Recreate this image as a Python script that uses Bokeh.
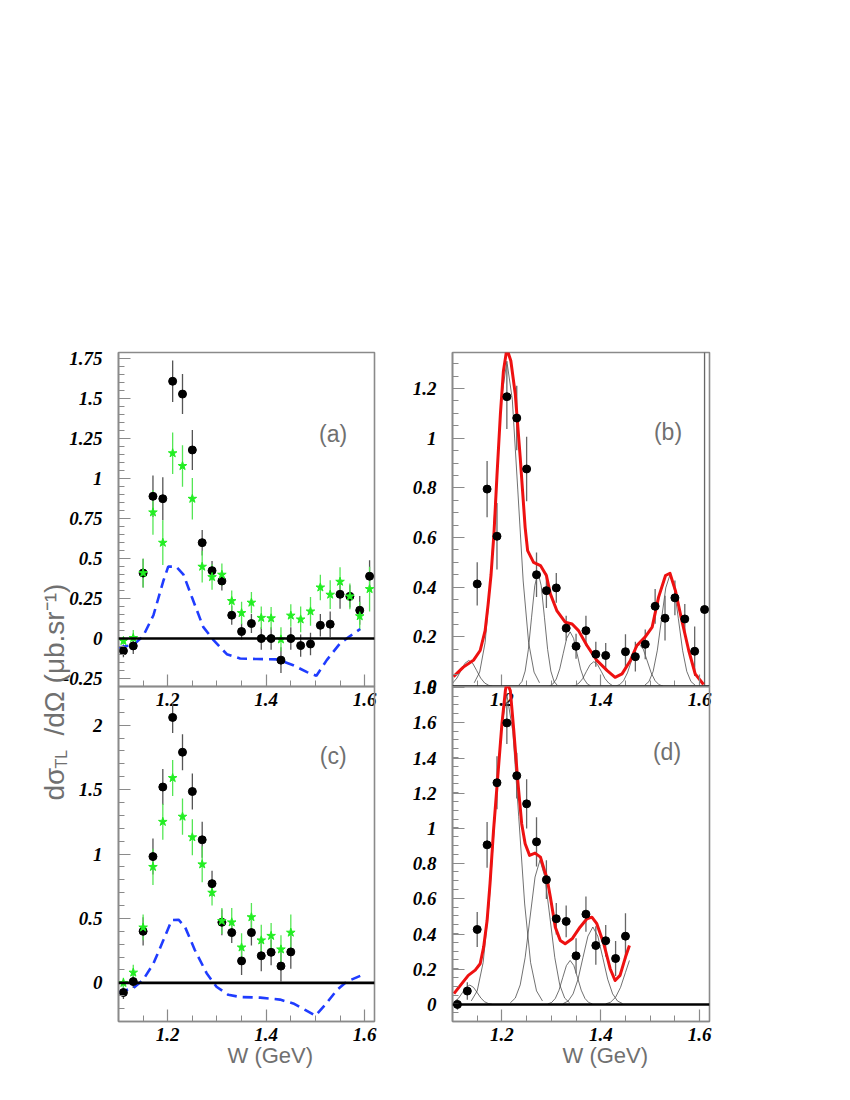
import numpy as np
from bokeh.plotting import figure
from bokeh.models import (Range1d, FixedTicker, CustomJSTickFormatter, Span, Label,
                          ColumnDataSource)
from bokeh.layouts import row, column
from bokeh.embed import file_html
from bokeh.resources import INLINE

# ---------------- data ----------------
# panel (a)
XA = [1.11, 1.13, 1.15, 1.17, 1.19, 1.21, 1.23, 1.25, 1.27, 1.29, 1.31, 1.33, 1.35,
      1.37, 1.39, 1.41, 1.43, 1.45, 1.47, 1.49, 1.51, 1.53, 1.55, 1.57, 1.59, 1.61]
YA_BLACK = [-0.077, -0.046, 0.41, 0.89, 0.875, 1.61, 1.53, 1.18, 0.60, 0.425, 0.36, 0.146, 0.044,
            0.094, 0.0, 0.0, -0.135, 0.0, -0.044, -0.034, 0.083, 0.09, 0.277, 0.264, 0.177, 0.39]
EA_BLACK = [0.04, 0.05, 0.09, 0.13, 0.135, 0.13, 0.125, 0.125, 0.08, 0.06, 0.06, 0.06, 0.05,
            0.06, 0.07, 0.07, 0.08, 0.07, 0.07, 0.07, 0.07, 0.08, 0.09, 0.07, 0.09, 0.1]
YA_GREEN = [-0.015, 0.004, 0.41, 0.79, 0.60, 1.16, 1.08, 0.875, 0.45, 0.385, 0.40, 0.235, 0.16,
            0.225, 0.13, 0.127, -0.005, 0.144, 0.12, 0.17, 0.32, 0.275, 0.356, 0.264, 0.14, 0.31]
EA_GREEN = [0.02, 0.05, 0.09, 0.14, 0.14, 0.13, 0.13, 0.13, 0.1, 0.08, 0.07, 0.065, 0.07,
            0.066, 0.07, 0.07, 0.075, 0.07, 0.08, 0.09, 0.08, 0.09, 0.09, 0.08, 0.09, 0.14]
BXA = [1.10, 1.13, 1.15, 1.171, 1.191, 1.201, 1.217, 1.232, 1.249, 1.272, 1.293, 1.32,
       1.347, 1.381, 1.422, 1.455, 1.483, 1.502, 1.523, 1.55, 1.577, 1.591]
BYA = [-0.056, -0.04, 0.015, 0.146, 0.36, 0.45, 0.45, 0.40, 0.26, 0.073, -0.01, -0.098,
       -0.125, -0.128, -0.13, -0.167, -0.21, -0.233, -0.135, -0.03, 0.03, 0.06]

# panel (c)
XC = [1.11, 1.13, 1.15, 1.17, 1.19, 1.21, 1.23, 1.25, 1.27, 1.29, 1.31, 1.33, 1.35,
      1.37, 1.39, 1.41, 1.43, 1.45]
YC_BLACK = [-0.075, 0.01, 0.40, 0.98, 1.52, 2.06, 1.79, 1.485, 1.11, 0.77, 0.47, 0.39, 0.17,
            0.39, 0.21, 0.237, 0.13, 0.24]
EC_BLACK = [0.05, 0.05, 0.11, 0.14, 0.14, 0.12, 0.14, 0.14, 0.14, 0.1, 0.1, 0.08, 0.11,
            0.1, 0.12, 0.1, 0.12, 0.13]
YC_GREEN = [0.0, 0.08, 0.43, 0.90, 1.25, 1.59, 1.29, 1.13, 0.92, 0.70, 0.48, 0.47, 0.275,
            0.51, 0.33, 0.365, 0.26, 0.39]
EC_GREEN = [0.04, 0.06, 0.1, 0.14, 0.14, 0.14, 0.14, 0.14, 0.14, 0.1, 0.1, 0.11, 0.11,
            0.11, 0.12, 0.1, 0.11, 0.14]
BXC = [1.10, 1.13, 1.15, 1.171, 1.191, 1.208, 1.222, 1.235, 1.255, 1.279, 1.299, 1.323,
       1.347, 1.388, 1.428, 1.455, 1.479, 1.50, 1.52, 1.544, 1.564, 1.591]
BYC = [-0.075, -0.04, 0.023, 0.15, 0.33, 0.487, 0.49, 0.435, 0.255, 0.075, -0.03, -0.093,
       -0.11, -0.115, -0.13, -0.16, -0.21, -0.255, -0.17, -0.054, 0.01, 0.054]

# panel (b)
XB = [1.15, 1.17, 1.19, 1.21, 1.23, 1.25, 1.27, 1.29, 1.31, 1.33, 1.35, 1.37, 1.39, 1.41,
      1.45, 1.47, 1.49, 1.51, 1.53, 1.55, 1.57, 1.59, 1.61]
YB = [0.413, 0.795, 0.605, 1.167, 1.081, 0.876, 0.45, 0.386, 0.397, 0.235, 0.162, 0.225, 0.13,
      0.125, 0.14, 0.12, 0.17, 0.323, 0.275, 0.357, 0.272, 0.142, 0.31]
EB = [0.087, 0.113, 0.134, 0.13, 0.13, 0.13, 0.09, 0.07, 0.06, 0.05, 0.05, 0.06, 0.05,
      0.05, 0.07, 0.06, 0.06, 0.07, 0.09, 0.07, 0.06, 0.1, 1.4]
RXB = [1.102, 1.122, 1.143, 1.156, 1.166, 1.172, 1.178, 1.184, 1.19, 1.197, 1.203, 1.21,
       1.218, 1.227, 1.237, 1.247, 1.252, 1.264, 1.278, 1.29, 1.298, 1.311, 1.328, 1.342,
       1.355, 1.372, 1.392, 1.413, 1.429, 1.443, 1.46, 1.473, 1.49, 1.504, 1.517, 1.531,
       1.54, 1.551, 1.564, 1.578, 1.591, 1.608]
RYB = [0.04, 0.078, 0.107, 0.145, 0.225, 0.33, 0.45, 0.62, 0.85, 1.10, 1.27, 1.36,
       1.312, 1.178, 0.923, 0.64, 0.547, 0.50, 0.487, 0.447, 0.373, 0.306, 0.259, 0.252,
       0.225, 0.165, 0.105, 0.064, 0.037, 0.051, 0.105, 0.165, 0.20, 0.239, 0.36, 0.447,
       0.456, 0.386, 0.266, 0.145, 0.051, 0.008]
CB_X = [
    [1.100, 1.109, 1.117, 1.125, 1.133, 1.141, 1.149, 1.157, 1.165, 1.173, 1.181],
    [1.144, 1.155, 1.166, 1.177, 1.188, 1.199, 1.210, 1.221, 1.232, 1.243, 1.254, 1.265, 1.276],
    [1.234, 1.2405, 1.247, 1.2535, 1.260, 1.2665, 1.273, 1.2795, 1.286, 1.2925, 1.299, 1.3055, 1.312],
    [1.296, 1.303, 1.310, 1.317, 1.324, 1.331, 1.338, 1.345, 1.352, 1.359, 1.366, 1.373, 1.380],
    [1.341, 1.3485, 1.356, 1.3635, 1.371, 1.3785, 1.386, 1.3935, 1.401, 1.4085, 1.416, 1.4235, 1.431],
    [1.430, 1.438, 1.446, 1.454, 1.462, 1.470, 1.478, 1.486, 1.494, 1.502, 1.510, 1.518, 1.526],
    [1.489, 1.4975, 1.506, 1.5145, 1.523, 1.5315, 1.540, 1.5485, 1.557, 1.5655, 1.574, 1.5825, 1.591],
]
CB_Y = [
    [0.013, 0.034, 0.064, 0.093, 0.105, 0.093, 0.064, 0.034, 0.014, 0.005, 0.001],
    [0.015, 0.058, 0.177, 0.425, 0.795, 1.156, 1.31, 1.156, 0.795, 0.425, 0.177, 0.058, 0.015],
    [0.005, 0.020, 0.062, 0.149, 0.279, 0.406, 0.46, 0.406, 0.279, 0.149, 0.062, 0.020, 0.005],
    [0.002, 0.010, 0.030, 0.071, 0.133, 0.194, 0.22, 0.194, 0.133, 0.071, 0.030, 0.010, 0.002],
    [0.001, 0.004, 0.014, 0.032, 0.061, 0.088, 0.10, 0.088, 0.061, 0.032, 0.014, 0.004, 0.001],
    [0.002, 0.007, 0.023, 0.055, 0.103, 0.150, 0.17, 0.150, 0.103, 0.055, 0.023, 0.007, 0.002],
    [0.005, 0.020, 0.061, 0.146, 0.273, 0.397, 0.45, 0.397, 0.273, 0.146, 0.061, 0.020, 0.005],
]

# panel (d)
XD = [1.11, 1.13, 1.15, 1.17, 1.19, 1.21, 1.23, 1.25, 1.27, 1.29, 1.31, 1.33, 1.35,
      1.37, 1.39, 1.41, 1.43, 1.45]
YD = [0.0, 0.076, 0.426, 0.907, 1.26, 1.60, 1.30, 1.14, 0.924, 0.709, 0.487, 0.472, 0.276,
      0.513, 0.335, 0.362, 0.261, 0.388]
ED = [0.03, 0.05, 0.1, 0.13, 0.15, 0.12, 0.13, 0.14, 0.14, 0.11, 0.09, 0.09, 0.1,
      0.1, 0.11, 0.09, 0.1, 0.13]
RXD = [1.103, 1.116, 1.132, 1.146, 1.156, 1.163, 1.170, 1.176, 1.183, 1.191, 1.20, 1.207,
       1.21, 1.217, 1.224, 1.232, 1.240, 1.247, 1.256, 1.267, 1.278, 1.286, 1.291, 1.298,
       1.308, 1.318, 1.328, 1.342, 1.358, 1.372, 1.382, 1.392, 1.406, 1.419, 1.429, 1.439,
       1.45, 1.458]
RYD = [0.061, 0.108, 0.165, 0.195, 0.231, 0.326, 0.477, 0.69, 0.989, 1.273, 1.595, 1.784,
       1.83, 1.784, 1.557, 1.273, 1.027, 0.913, 0.847, 0.86, 0.837, 0.761, 0.72, 0.61,
       0.439, 0.364, 0.345, 0.373, 0.439, 0.487, 0.496, 0.459, 0.345, 0.203, 0.136, 0.165,
       0.269, 0.335]
CD_X = [
    [1.100, 1.1125, 1.120, 1.1275, 1.135, 1.1425, 1.150, 1.1575, 1.165, 1.1725, 1.180],
    [1.138, 1.150, 1.162, 1.174, 1.186, 1.198, 1.210, 1.222, 1.234, 1.246, 1.258, 1.270, 1.282],
    [1.217, 1.227, 1.237, 1.247, 1.257, 1.267, 1.277, 1.287, 1.297, 1.307, 1.317, 1.327, 1.337],
    [1.293, 1.3005, 1.308, 1.3155, 1.323, 1.3305, 1.338, 1.3455, 1.353, 1.3605, 1.368, 1.3755, 1.383],
    [1.324, 1.334, 1.344, 1.354, 1.364, 1.374, 1.384, 1.394, 1.404, 1.414, 1.424, 1.434, 1.444],
    [1.410, 1.420, 1.430, 1.440, 1.450, 1.458],
]
CD_Y = [
    [0.007, 0.036, 0.067, 0.097, 0.11, 0.097, 0.067, 0.036, 0.015, 0.005, 0.001],
    [0.020, 0.077, 0.238, 0.571, 1.067, 1.553, 1.76, 1.553, 1.067, 0.571, 0.238, 0.077, 0.020],
    [0.009, 0.036, 0.111, 0.266, 0.497, 0.724, 0.82, 0.724, 0.497, 0.266, 0.111, 0.036, 0.009],
    [0.003, 0.011, 0.034, 0.081, 0.152, 0.221, 0.25, 0.221, 0.152, 0.081, 0.034, 0.011, 0.003],
    [0.005, 0.019, 0.060, 0.143, 0.267, 0.388, 0.44, 0.388, 0.267, 0.143, 0.060, 0.019, 0.005],
    [0.003, 0.013, 0.041, 0.097, 0.182, 0.25],
]

# ticks
X_TICKS = [1.2, 1.4, 1.6]
YA_TICKS = [-0.25, 0, 0.25, 0.5, 0.75, 1, 1.25, 1.5, 1.75]
YC_TICKS = [0, 0.5, 1, 1.5, 2]
YB_TICKS = [0, 0.2, 0.4, 0.6, 0.8, 1, 1.2]
YD_TICKS = [0, 0.2, 0.4, 0.6, 0.8, 1, 1.2, 1.4, 1.6, 1.8]

X_TITLE = "W (GeV)"
Y_TITLE_MAIN = "dσ"
Y_TITLE_SUB = "TL"
Y_TITLE_REST = "/dΩ (μb.sr⁻¹)"

AXIS_GRAY = "#8a8a8a"
TXT_GRAY = "#707070"


def minor(lo, hi, step):
    return [round(v, 4) for v in np.arange(lo, hi + 1e-9, step)]


def make_fig(yr, yticks, yminor, fw, fh, bl, br, bt, bb, transparent):
    p = figure(x_range=Range1d(1.1, 1.62), y_range=Range1d(*yr),
               frame_width=fw, frame_height=fh,
               min_border_left=bl, min_border_right=br,
               min_border_top=bt, min_border_bottom=bb,
               output_backend="svg", toolbar_location=None)
    p.grid.visible = False
    p.outline_line_color = AXIS_GRAY
    p.outline_line_width = 1.6
    if transparent:
        p.border_fill_color = None
        p.background_fill_color = None
    for ax in p.axis:
        ax.axis_line_color = AXIS_GRAY
        ax.axis_line_width = 1.6
        ax.major_tick_in = 12
        ax.major_tick_out = 0
        ax.minor_tick_in = 6
        ax.minor_tick_out = 0
        ax.major_tick_line_color = AXIS_GRAY
        ax.minor_tick_line_color = AXIS_GRAY
        ax.major_tick_line_width = 1.2
        ax.minor_tick_line_width = 1.0
        ax.major_label_text_font = "Liberation Serif"
        ax.major_label_text_font_style = "bold italic"
        ax.major_label_text_font_size = "19px"
        ax.major_label_text_color = "black"
        ax.formatter = CustomJSTickFormatter(code="return String(Math.round(tick*1000)/1000);")
    p.xaxis.ticker = FixedTicker(ticks=X_TICKS, minor_ticks=minor(1.1, 1.62, 0.05))
    p.yaxis.ticker = FixedTicker(ticks=yticks, minor_ticks=yminor)
    p.xaxis.major_label_standoff = 6
    p.yaxis.major_label_standoff = 16
    p.add_layout(Span(location=0, dimension="width", line_color="black", line_width=2.6))
    return p


def errbars(p, x, y, e, color, width=1.3):
    y = np.array(y)
    e = np.array(e)
    src = ColumnDataSource(dict(x=x, lo=y - e, hi=y + e))
    p.segment(x0="x", y0="lo", x1="x", y1="hi", source=src, line_color=color, line_width=width)


def panel_label(p, x, y, text):
    p.add_layout(Label(x=x, y=y, text=text, text_align="center", text_baseline="middle",
                       text_font="Liberation Sans", text_font_size="23px", text_color=TXT_GRAY))


BLACK_ERR = "#555555"
GREEN = "#22ee22"
GREEN_ERR = "#55e655"
BLUE = "#1f3cff"
RED = "#ee1111"

# ---------------- (a) ----------------
fa = make_fig((-0.3, 1.79), YA_TICKS, minor(-0.3, 1.79, 0.05), 256, 334, 118, 6, 352, 40, False)
errbars(fa, XA, YA_BLACK, EA_BLACK, BLACK_ERR)
errbars(fa, XA, YA_GREEN, EA_GREEN, GREEN_ERR)
fa.line(BXA, BYA, line_color=BLUE, line_width=2.6, line_dash="10 6")
fa.scatter(XA, YA_BLACK, marker="circle", size=8, fill_color="black", line_color="black")
fa.scatter(XA, YA_GREEN, marker="star", size=9, fill_color=GREEN, line_color=GREEN)
panel_label(fa, 1.536, 1.281, "(a)")

# ---------------- (b) ----------------
fb = make_fig((0, 1.345), YB_TICKS, minor(0, 1.345, 0.05), 257, 334, 72, 20, 352, 40, False)
for cx, cy in zip(CB_X, CB_Y):
    fb.line(cx, cy, line_color="#333333", line_width=0.7)
errbars(fb, XB, YB, EB, "#666666")
fb.line(RXB, RYB, line_color=RED, line_width=3, line_join="round")
fb.scatter(XB, YB, marker="circle", size=8, fill_color="black", line_color="black")
panel_label(fb, 1.536, 1.023, "(b)")

# ---------------- (c) ----------------
fc = make_fig((-0.3, 2.3), YC_TICKS, minor(-0.3, 2.3, 0.1), 256, 335, 118, 6, 320, 60, True)
errbars(fc, XC, YC_BLACK, EC_BLACK, BLACK_ERR)
errbars(fc, XC, YC_GREEN, EC_GREEN, GREEN_ERR)
fc.line(BXC, BYC, line_color=BLUE, line_width=2.6, line_dash="10 6")
fc.scatter(XC, YC_BLACK, marker="circle", size=8, fill_color="black", line_color="black")
fc.scatter(XC, YC_GREEN, marker="star", size=9, fill_color=GREEN, line_color=GREEN)
panel_label(fc, 1.536, 1.76, "(c)")

# ---------------- (d) ----------------
fd = make_fig((-0.097, 1.807), YD_TICKS, minor(-0.097, 1.807, 0.05), 257, 335, 72, 20, 320, 60, True)
for cx, cy in zip(CD_X, CD_Y):
    fd.line(cx, cy, line_color="#333333", line_width=0.7)
errbars(fd, XD, YD, ED, "#666666")
fd.line(RXD, RYD, line_color=RED, line_width=3, line_join="round")
fd.scatter(XD, YD, marker="circle", size=8, fill_color="black", line_color="black")
panel_label(fd, 1.534, 1.433, "(d)")

# ---------------- transparent overlay holding the axis titles ----------------
# pixel-like coordinates: x = page x, y = 1080 - page y
ft = figure(width=720, height=560, x_range=Range1d(0, 720), y_range=Range1d(0, 560),
            min_border=0, x_axis_location=None, y_axis_location=None,
            output_backend="svg", toolbar_location=None)
ft.grid.visible = False
ft.outline_line_color = None
ft.border_fill_color = None
ft.background_fill_color = None


def title_label(x, y, text, size, angle=0.0):
    ft.add_layout(Label(x=x, y=y, text=text, angle=angle, text_align="left",
                        text_baseline="middle", text_font="Liberation Sans",
                        text_font_size=size, text_color=TXT_GRAY))


title_label(54, 280, Y_TITLE_MAIN, "28px", np.pi / 2)
title_label(61, 312, Y_TITLE_SUB, "16px", np.pi / 2)
title_label(54, 345, Y_TITLE_REST, "28px", np.pi / 2)
title_label(227, 25, X_TITLE, "22px")
title_label(562, 25, X_TITLE, "22px")

layout = column(row(fa, fb),
                row(fc, fd, margin=(-360, 0, 0, 0)),
                row(ft, margin=(-561, 0, 0, 0)))

open("out.html", "w").write(file_html(layout, INLINE))
